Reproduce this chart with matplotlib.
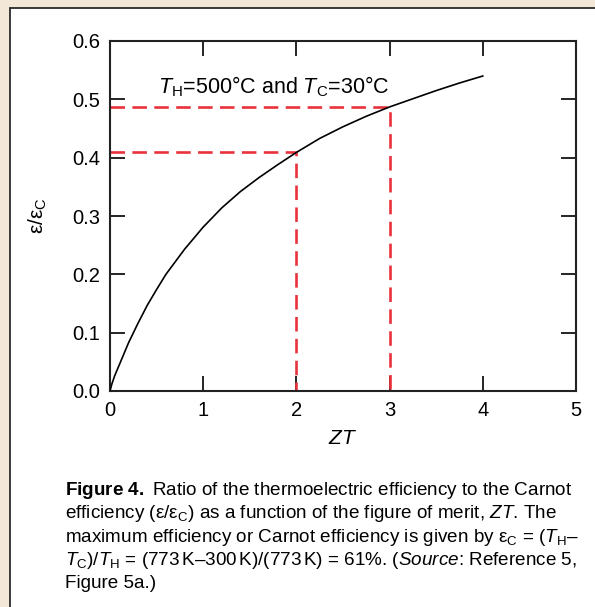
import numpy as np
import matplotlib.pyplot as plt
from matplotlib.patches import Rectangle

# curve
zt = [0, 0.02, 0.05, 0.1, 0.2, 0.3, 0.4, 0.5, 0.6, 0.8, 1.0, 1.2, 1.4, 1.6,
      1.8, 2.0, 2.25, 2.5, 2.75, 3.0, 3.25, 3.5, 3.75, 4.0]
ratio = [0, 0.012, 0.026, 0.045, 0.083, 0.116, 0.147, 0.174, 0.200, 0.243,
         0.281, 0.314, 0.342, 0.366, 0.388, 0.409, 0.433, 0.453, 0.471, 0.487,
         0.501, 0.515, 0.528, 0.540]

# guide points (dashed red)
guide_zt = [2, 3]
guide_ratio = [0.41, 0.487]

xticks = [0, 1, 2, 3, 4, 5]
yticks = [0.0, 0.1, 0.2, 0.3, 0.4, 0.5, 0.6]

caption = [
    r"$\mathbf{Figure\ 4.}$ Ratio of the thermoelectric efficiency to the Carnot",
    r"efficiency (ε/ε$_{\mathrm{C}}$) as a function of the figure of merit, $ZT$. The",
    r"maximum efficiency or Carnot efficiency is given by ε$_{\mathrm{C}}$ = ($T_{\mathrm{H}}$–",
    r"$T_{\mathrm{C}}$)/$T_{\mathrm{H}}$ = (773$\,$K–300$\,$K)/(773$\,$K) = 61%. ($\mathit{Source}$: Reference 5,",
    r"Figure 5a.)",
]

plt.rcParams['font.family'] = ['Liberation Sans', 'DejaVu Sans']
plt.rcParams['mathtext.fontset'] = 'custom'
plt.rcParams['mathtext.rm'] = 'Liberation Sans'
plt.rcParams['mathtext.it'] = 'Liberation Sans:italic'
plt.rcParams['mathtext.bf'] = 'Liberation Sans:bold'

W, H = 595, 607
fig = plt.figure(figsize=(W / 100, H / 100), dpi=100)
fig.patch.set_facecolor('#f3e8d8')
fig.patches.append(Rectangle((9.5 / W, -0.01), 1.0, 1 - 7.5 / H + 0.01,
                             transform=fig.transFigure, facecolor='white',
                             edgecolor='#2a2a2a', lw=1.3, zorder=-10))

ax = fig.add_axes([110 / W, 1 - 391 / H, 466 / W, 350 / H])
ax.set_facecolor('white')
ax.set_xlim(0, 5)
ax.set_ylim(0, 0.6)

for gx, gy in zip(guide_zt, guide_ratio):
    ax.plot([0, gx, gx], [gy, gy, 0], color='#e8323c', lw=1.9,
            dashes=(5.5, 2.8), clip_on=False, zorder=2)

ax.plot(zt, ratio, color='black', lw=1.2, zorder=3, solid_joinstyle='round')

ax.text(1.76, 0.511, r"$T_{\mathrm{H}}$=500°C and $T_{\mathrm{C}}$=30°C",
        ha='center', va='baseline', fontsize=15.5)

ax.set_xticks(xticks)
ax.set_yticks(yticks)
ax.set_xticklabels([str(v) for v in xticks])
ax.set_yticklabels([f"{v:.1f}" for v in yticks])
ax.tick_params(direction='in', length=11, width=1.2, labelsize=14.5,
               top=True, right=True, pad=7)
for s in ax.spines.values():
    s.set_linewidth(1.5)
    s.set_color('#222222')

ax.set_xlabel(r"$ZT$", fontsize=15)
ax.xaxis.set_label_coords(0.5, -0.11)
ax.set_ylabel(r"ε/ε$_{\mathrm{C}}$", fontsize=15)
ax.yaxis.set_label_coords(-0.13, 0.5)

y0 = 495
for i, line in enumerate(caption):
    fig.text(65 / W, 1 - (y0 + i * 23.3) / H, line, fontsize=13.6,
             ha='left', va='baseline')

fig.savefig('out.png', dpi=100, facecolor=fig.get_facecolor())
